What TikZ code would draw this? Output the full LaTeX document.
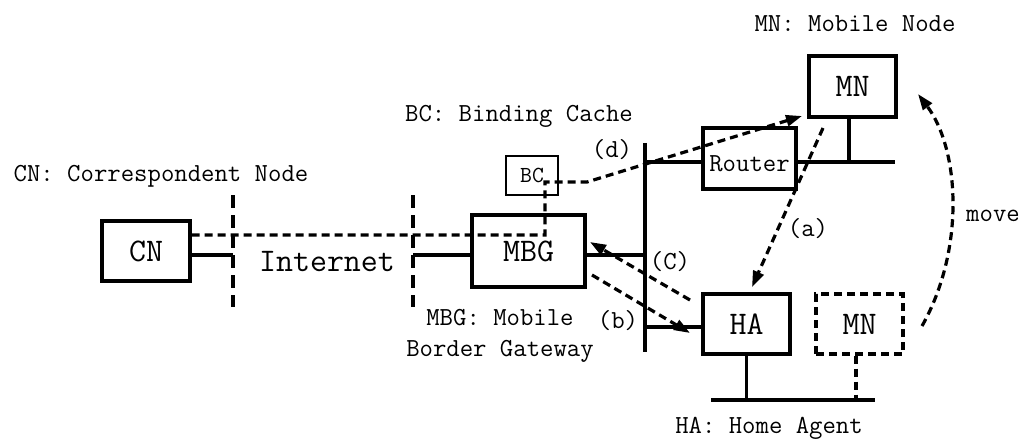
\documentclass[tikz,border=0pt]{standalone}
\usepackage{fontspec}
\usetikzlibrary{arrows.meta}
\newcommand{\lblfont}{\ttfamily\fontsize{26}{31}\selectfont}
\newcommand{\boxfont}{\ttfamily\fontsize{33}{38}\selectfont}
\begin{document}
\begin{tikzpicture}[x=1pt,y=-1pt,line join=miter,line width=3.2pt,>={Triangle[length=16pt,width=11pt]}]
	\tikzset{box/.style={draw,line width=3.2pt,inner sep=0pt,font=\boxfont},
		msg/.style={line width=3.2pt,dash pattern=on 8pt off 5pt},
		edge/.style={line width=3.2pt,dash pattern=on 13pt off 7pt},
		txt/.style={font=\lblfont,inner sep=0pt}}
	\useasboundingbox (0,0) rectangle (1023,441);
	% hosts
	\node[box,minimum width=88,minimum height=60] (cn) at (146,251) {CN};
	\node[box,minimum width=113,minimum height=72] (mbg) at (528.5,251) {MBG};
	\node[box,line width=1.2pt,minimum width=52,minimum height=39,font=\ttfamily\fontsize{23}{26}\selectfont] (bc) at (532,175.5) {BC};
	\node[box,minimum width=93,minimum height=61,font=\lblfont,text height=26pt] (router) at (749.5,158.5) {Router};
	\node[box,minimum width=87,minimum height=61] (mn) at (852.5,86.5) {MN};
	\node[box,minimum width=87,minimum height=60] (ha) at (746.5,324) {HA};
	\node[box,msg,minimum width=87,minimum height=60] (mnold) at (859.5,324) {MN};
	% links
	\coordinate (inL) at (233,255); \coordinate (inR) at (413,255);
	\coordinate (busT) at (645,143); \coordinate (busB) at (645,352);
	\coordinate (rbus) at (895,162); \coordinate (hbusL) at (711,400); \coordinate (hbusR) at (875,400);
	\draw (cn.east |- inL)--(inL) (inR)--(mbg.west |- inR);
	\draw[edge] (233,195)--(233,307) (413,195)--(413,307);
	\draw (mbg.east |- 0,255)--(645,255) (busT)--(busB);
	\draw (645,162)--(router.west |- 0,162) (router.east |- 0,162)--(rbus);
	\draw (mn.south -| 849,0)--(849,162);
	\draw (645,327)--(ha.west |- 0,327) (ha.south)--(ha.south |- hbusL) (hbusL)--(hbusR);
	\draw[msg] (mnold.south -| 856,0)--(856,400);
	% messages
	\draw[msg,->] (cn.east |- 0,235)--(545,235)--(545,182)--(587,182)--(802,116);
	\draw[msg,->] (823,128)--(752,287);
	\draw[msg,->] (690,300)--(590,242);
	\draw[msg,->] (592,275)--(690,333);
	\draw[msg,->] (922,326) .. controls (965,250) and (960,150) .. (918,94);
	% labels
	\node[txt] (lcn) at (161,176) {CN: Correspondent Node};
	\node[txt] (lbc) at (519,116) {BC: Binding Cache};
	\node[txt] (lmn) at (855,24) {MN: Mobile Node};
	\node[txt] (lha) at (769,428) {HA: Home Agent};
	\node[txt,align=center] (lmbg) at (500,336) {MBG: Mobile\\Border Gateway};
	\node[txt] (lmove) at (993,216) {move};
	\node[txt] (la) at (808,229) {(a)};
	\node[txt] (lb) at (618,321) {(b)};
	\node[txt] (lc) at (670,262) {(C)};
	\node[txt] (ld) at (612,150) {(d)};
	\node[txt,font=\boxfont] (inet) at (327,262) {Internet};
\end{tikzpicture}
\end{document}
